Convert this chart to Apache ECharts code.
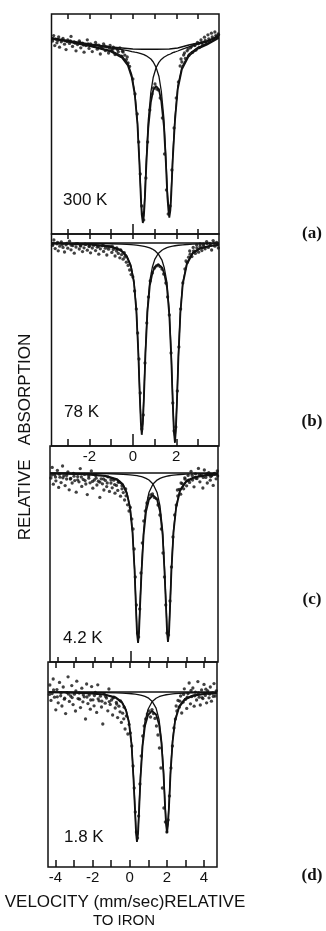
<!DOCTYPE html>
<html>
<head>
<meta charset="utf-8">
<title>Mössbauer spectra</title>
<script src="https://cdn.jsdelivr.net/npm/echarts@6/dist/echarts.min.js"></script>
<style>
  html, body { margin: 0; padding: 0; background: #fff; }
  #chart { width: 326px; height: 931px; }
</style>
</head>
<body>
<div id="chart"></div>
<script>
// velocities in mm/sec, absorption in % (baseline 0, grows downward)

// (a) 300 K
const velA = [-3.73, -3.0, -2.0, -1.0, -0.5, -0.23, -0.05, 0.09, 0.21, 0.30, 0.37, 0.41, 0.46, 0.51, 0.55, 0.62, 0.71, 0.83, 0.94, 1.07, 1.20, 1.31, 1.43, 1.52, 1.59, 1.64, 1.68, 1.73, 1.77, 1.84, 1.94, 2.07, 2.26, 2.58, 3.0, 3.41, 3.96];
const fitA = [0.3, 1.75, 4.0, 6.8, 9.8, 13.75, 19.7, 28.6, 42.9, 62.4, 80.6, 88.5, 92.5, 88.8, 81.3, 63.7, 45.1, 32.0, 26.0, 24.0, 25.7, 31.6, 44.1, 62.2, 79.3, 86.3, 89.8, 86.0, 78.3, 60.5, 41.5, 25.5, 15.7, 8.9, 5.3, 3.3, 0.0];
const compA1 = [0.2, 1.6, 3.7, 6.3, 9.0, 12.7, 18.4, 27.1, 41.2, 60.4, 78.4, 86.2, 90.0, 86.2, 78.4, 60.4, 41.2, 27.1, 19.6, 14.9, 12.2, 10.7, 9.6, 9.0, 8.6, 8.3, 8.2, 8.0, 7.6, 7.3, 7.0, 6.5, 5.7, 4.4, 3.1, 2.0, -0.7];
const compA2 = [0.1, 1.4, 3.3, 5.0, 5.8, 6.3, 6.8, 7.1, 7.3, 7.6, 7.8, 7.9, 8.1, 8.3, 8.5, 8.9, 9.5, 10.5, 12.0, 14.7, 19.1, 26.5, 40.1, 58.8, 76.3, 83.6, 87.3, 83.6, 76.1, 58.5, 39.7, 24.0, 14.5, 8.0, 4.7, 2.8, -0.3];
const baseVelA = [-3.73, -3.0, -2.0, -1.0, 0.0, 0.46, 1.07, 1.68, 2.07, 2.58, 3.0, 3.41, 3.96];
const baseA = [0, 1.25, 3.0, 4.5, 5.5, 5.6, 5.6, 5.5, 5.0, 3.5, 2.5, 1.5, -1.0];
const ptsA = [[-3.7, 1.5], [-3.65, -1.2], [-3.6, 3.8], [-3.55, 0.6], [-3.5, 2.4], [-3.42, -0.5], [-3.38, 4.6], [-3.3, 1.9], [-3.22, 0.2], [-3.15, 3.1], [-3.08, 5.8], [-3.0, 1.0], [-2.92, 2.7], [-2.85, -0.8], [-2.78, 4.2], [-2.7, 2.0], [-2.62, 6.4], [-2.55, 3.3], [-2.47, 1.4], [-2.4, 4.9], [-2.32, 2.6], [-2.25, 7.1], [-2.17, 3.8], [-2.1, 0.9], [-2.02, 5.2], [-1.95, 3.0], [-1.87, 6.8], [-1.8, 4.1], [-1.72, 2.2], [-1.64, 5.6], [-1.57, 3.6], [-1.5, 8.0], [-1.42, 4.8], [-1.35, 2.9], [-1.27, 6.3], [-1.2, 4.4], [-1.12, 7.5], [-1.05, 3.7], [-0.97, 5.9], [-0.9, 4.6], [-0.82, 8.3], [-0.75, 5.3], [-0.67, 6.9], [-0.6, 4.9], [-0.52, 9.1], [-0.45, 7.0], [-0.37, 8.6], [-0.3, 10.8], [-0.22, 12.5], [-0.15, 14.2],
  [-3.68, 0.4], [-3.46, 1.2], [-3.26, 0.9], [-3.04, 1.8], [-2.88, 1.4], [-2.66, 2.6], [-2.44, 2.2], [-2.28, 3.5], [-2.06, 2.9], [-1.9, 3.8], [-1.68, 3.4], [-1.46, 4.5], [-1.3, 4.0], [-1.08, 5.0], [-0.92, 5.6], [-0.7, 5.9], [-0.48, 6.6], [-0.26, 9.5],
  [0.0, 20.5], [0.1, 28], [0.2, 38], [0.27, 52], [0.34, 68], [0.41, 84], [0.5, 91], [0.6, 70], [0.68, 52], [0.78, 36], [0.88, 28], [0.95, 25], [1.02, 23], [1.1, 25.5], [1.18, 26], [1.26, 30], [1.36, 40], [1.46, 58], [1.55, 76], [1.63, 88], [1.72, 84], [1.8, 66], [1.9, 45], [2.0, 30], [2.1, 22],
  [2.18, 14], [2.26, 12], [2.34, 8.5], [2.42, 10.2], [2.5, 6.4], [2.58, 8.8], [2.66, 4.9], [2.74, 7.2], [2.82, 3.5], [2.9, 6.1], [2.98, 2.2], [3.06, 4.8], [3.14, 1.0], [3.22, 3.6], [3.3, -0.4], [3.38, 2.5], [3.46, -1.6], [3.54, 1.3], [3.62, -2.4], [3.7, 0.4], [3.78, -3.0], [3.86, -0.8], [3.93, -2.0],
  [2.22, 10.5], [2.38, 7.5], [2.55, 5.5], [2.7, 4.3], [2.86, 3.8], [3.02, 2.9], [3.18, 2.4], [3.34, 1.2], [3.5, 0.4], [3.66, -0.5], [3.82, -1.2], [3.95, -1.6]];

// (b) 78 K
const velB = [-3.73, -3.0, -1.98, -1.06, -0.55, -0.28, -0.09, 0.05, 0.16, 0.25, 0.32, 0.37, 0.41, 0.46, 0.51, 0.58, 0.67, 0.78, 0.90, 1.01, 1.17, 1.34, 1.45, 1.57, 1.68, 1.77, 1.84, 1.89, 1.94, 1.98, 2.03, 2.10, 2.19, 2.30, 2.49, 2.76, 3.09, 3.55, 3.96];
const fitB = [0.29, 0.41, 0.78, 1.83, 3.85, 6.95, 11.87, 19.8, 33.8, 54.7, 76.9, 90.3, 95.9, 90.4, 77.2, 55.3, 34.7, 21.4, 15.0, 12.0, 10.7, 12.2, 15.4, 22.1, 36.1, 57.5, 80.4, 94.2, 99.9, 94.0, 80.0, 56.9, 35.1, 20.6, 10.6, 5.2, 2.9, 1.6, 1.0];
const compB1 = [0.19, 0.27, 0.56, 1.46, 3.31, 6.27, 11.06, 18.9, 32.7, 53.5, 75.6, 88.9, 94.5, 88.9, 75.6, 53.5, 32.7, 18.9, 12.0, 8.17, 5.24, 3.64, 2.90, 2.36, 1.96, 1.71, 1.55, 1.46, 1.37, 1.29, 1.22, 1.12, 1.01, 0.89, 0.74, 0.58, 0.44, 0.32, 0.25];
const compB2 = [0.10, 0.14, 0.22, 0.37, 0.54, 0.68, 0.81, 0.93, 1.05, 1.17, 1.27, 1.35, 1.43, 1.52, 1.62, 1.78, 2.04, 2.46, 3.02, 3.79, 5.47, 8.52, 12.5, 19.7, 34.1, 55.8, 78.8, 92.7, 98.5, 92.7, 78.8, 55.8, 34.1, 19.7, 9.85, 4.63, 2.46, 1.27, 0.77];
const baseVelB = [-3.75, 3.97];
const baseB = [0, 0];
const ptsB = [[-3.7, 1.2], [-3.64, -1.5], [-3.58, 2.8], [-3.5, 0.4], [-3.44, 3.9], [-3.37, 1.6], [-3.3, -0.6], [-3.22, 2.2], [-3.15, 4.5], [-3.08, 0.9], [-3.0, 2.6], [-2.92, -0.9], [-2.85, 3.4], [-2.77, 1.3], [-2.7, 5.1], [-2.62, 2.0], [-2.55, 0.3], [-2.47, 3.0], [-2.4, 1.5], [-2.32, 4.3], [-2.25, 2.4], [-2.17, 0.7], [-2.1, 3.6], [-2.02, 1.8], [-1.95, 4.9], [-1.87, 2.5], [-1.8, 1.1], [-1.72, 3.8], [-1.64, 2.1], [-1.57, 5.6], [-1.5, 2.9], [-1.42, 1.4], [-1.35, 4.2], [-1.27, 2.6], [-1.2, 6.0], [-1.12, 3.1], [-1.05, 1.9], [-0.97, 4.7], [-0.9, 3.3], [-0.82, 6.5], [-0.75, 4.0], [-0.67, 5.2], [-0.6, 7.4], [-0.52, 5.8], [-0.45, 8.1], [-0.37, 7.0], [-0.3, 9.6], [-0.22, 11.2], [-0.15, 13.5], [-0.08, 15.8],
  [-3.68, 0.5], [-3.47, -0.3], [-3.26, 0.8], [-3.05, 0.2], [-2.84, 1.1], [-2.63, 0.4], [-2.42, 1.3], [-2.21, 0.6], [-2.0, 1.5], [-1.79, 0.9], [-1.58, 1.7], [-1.37, 1.0], [-1.16, 2.0], [-0.95, 1.6], [-0.74, 2.5], [-0.56, 3.4], [-0.4, 4.8],
  [0.0, 17], [0.08, 24], [0.16, 33], [0.22, 45], [0.28, 58], [0.34, 75], [0.41, 93], [0.48, 86], [0.56, 60], [0.64, 40], [0.72, 27], [0.8, 19], [0.9, 15], [1.0, 12.5], [1.08, 11.5], [1.17, 11], [1.25, 11.8], [1.34, 13], [1.42, 15.5], [1.52, 20], [1.6, 27], [1.68, 36], [1.76, 55], [1.84, 80], [1.9, 94], [1.98, 92], [2.05, 74], [2.12, 52], [2.2, 33], [2.3, 20], [2.4, 13],
  [2.5, 9.8], [2.57, 7.1], [2.64, 5.6], [2.72, 6.8], [2.8, 3.9], [2.88, 5.2], [2.95, 2.4], [3.03, 4.6], [3.1, 1.7], [3.18, 3.8], [3.25, 0.6], [3.33, 2.9], [3.4, -0.7], [3.48, 2.2], [3.55, 0.2], [3.63, 3.5], [3.7, -1.2], [3.78, 1.6], [3.86, -0.3], [3.94, 2.5],
  [2.45, 9.0], [2.62, 4.0], [2.78, 2.2], [2.94, 1.0], [3.1, 0.5], [3.26, 1.4], [3.42, 0.3], [3.58, 1.1], [3.74, 0.0], [3.9, 0.8]];

// (c) 4.2 K
const velC = [-4.40, -3.59, -2.50, -1.42, -0.77, -0.44, -0.23, -0.065, 0.07, 0.18, 0.26, 0.31, 0.37, 0.42, 0.47, 0.56, 0.67, 0.80, 0.96, 1.18, 1.40, 1.56, 1.70, 1.80, 1.89, 1.94, 1.99, 2.05, 2.10, 2.18, 2.29, 2.43, 2.64, 2.97, 3.40, 4.00, 4.70];
const fitC = [0.27, 0.37, 0.67, 1.54, 3.43, 6.19, 10.55, 17.6, 29.9, 48.5, 68.1, 80.0, 84.95, 80.2, 68.5, 49.2, 31.1, 19.4, 13.3, 11.05, 13.25, 19.3, 30.9, 48.9, 68.1, 79.7, 84.5, 79.5, 67.7, 48.2, 29.7, 17.5, 9.05, 4.5, 2.35, 1.26, 0.74];
const compC1 = [0.18, 0.25, 0.48, 1.21, 2.92, 5.54, 9.77, 16.7, 28.9, 47.3, 66.8, 78.6, 83.5, 78.6, 66.8, 47.3, 28.9, 16.7, 9.77, 5.54, 3.54, 2.67, 2.17, 1.86, 1.67, 1.56, 1.46, 1.37, 1.29, 1.18, 1.04, 0.92, 0.75, 0.58, 0.43, 0.30, 0.21];
const compC2 = [0.09, 0.12, 0.19, 0.33, 0.51, 0.65, 0.78, 0.91, 1.04, 1.17, 1.28, 1.36, 1.45, 1.55, 1.66, 1.85, 2.16, 2.66, 3.52, 5.51, 9.71, 16.6, 28.7, 47.0, 66.4, 78.1, 83.0, 78.1, 66.4, 47.0, 28.7, 16.6, 8.3, 3.9, 1.92, 0.96, 0.53];
const baseVelC = [-4.4, 4.7];
const baseC = [0, 0];
const ptsC = [[-4.35, 2.5], [-4.28, -2.8], [-4.22, 5.6], [-4.15, 0.9], [-4.08, 3.9], [-4.0, -1.3], [-3.93, 7.2], [-3.86, 2.1], [-3.8, 4.8], [-3.72, -3.5], [-3.65, 1.4], [-3.58, 6.3], [-3.5, 3.0], [-3.43, -0.6], [-3.36, 8.4], [-3.28, 2.7], [-3.2, 5.0], [-3.13, 0.2], [-3.06, 3.8], [-2.98, 9.6], [-2.9, 1.8], [-2.83, 4.4], [-2.76, -2.2], [-2.68, 6.7], [-2.6, 3.2], [-2.53, 0.7], [-2.46, 5.5], [-2.38, 10.8], [-2.3, 2.6], [-2.23, 4.9], [-2.16, -1.0], [-2.08, 7.6], [-2.0, 3.5], [-1.93, 1.2], [-1.86, 6.0], [-1.78, 4.1], [-1.7, 12.2], [-1.63, 2.9], [-1.56, 5.4], [-1.48, 8.5], [-1.4, 3.7], [-1.33, 6.8], [-1.26, 1.9], [-1.18, 9.2], [-1.1, 5.0], [-1.03, 7.4], [-0.95, 3.6], [-0.88, 10.1], [-0.8, 6.2], [-0.73, 8.7], [-0.66, 4.5], [-0.58, 11.6], [-0.5, 7.9], [-0.43, 9.8], [-0.36, 13.5], [-0.28, 11.4], [-0.2, 15.9], [-0.12, 19.0],
  [-4.3, 1.0], [-4.1, 2.0], [-3.9, 0.6], [-3.7, 2.4], [-3.5, 1.2], [-3.3, 3.0], [-3.1, 1.6], [-2.9, 3.4], [-2.7, 2.0], [-2.5, 3.8], [-2.3, 1.5], [-2.1, 4.2], [-1.9, 2.6], [-1.7, 4.6], [-1.5, 3.0], [-1.3, 5.0], [-1.1, 3.4], [-0.9, 5.8], [-0.7, 4.6], [-0.5, 6.4], [-0.3, 8.0],
  [-0.05, 17.2], [0.03, 23], [0.1, 28], [0.16, 38], [0.22, 52], [0.28, 66], [0.34, 80], [0.4, 82], [0.46, 68], [0.53, 50], [0.6, 35], [0.68, 24], [0.76, 19], [0.85, 15], [0.95, 12.5], [1.05, 11], [1.15, 10.4], [1.25, 12.2], [1.35, 12.8], [1.45, 16], [1.55, 21], [1.63, 28], [1.72, 40], [1.8, 52], [1.87, 66], [1.94, 80], [2.02, 81], [2.1, 64], [2.18, 47], [2.26, 32], [2.35, 21], [2.44, 16],
  [2.52, 11.5], [2.6, 8.2], [2.68, 10.6], [2.76, 5.3], [2.84, 7.9], [2.92, 3.1], [3.0, 6.4], [3.08, 1.2], [3.16, 4.7], [3.24, -0.8], [3.32, 3.5], [3.4, 6.9], [3.48, 0.4], [3.56, 2.8], [3.64, -2.3], [3.72, 4.4], [3.8, 1.0], [3.88, 7.5], [3.96, -1.5], [4.04, 2.2], [4.12, 5.0], [4.2, -0.2], [4.28, 3.6], [4.36, 1.4], [4.44, 6.2], [4.52, 0.6], [4.6, 2.9], [4.66, -1.0],
  [2.5, 8.5], [2.7, 5.0], [2.9, 2.4], [3.1, 3.6], [3.3, 1.2], [3.5, 2.6], [3.7, 0.9], [3.9, 2.2], [4.1, 0.5], [4.3, 1.8], [4.5, 0.2], [4.68, 1.5]];

// (d) 1.8 K
const velD = [-4.35, -3.54, -2.46, -1.38, -0.74, -0.41, -0.20, -0.04, 0.10, 0.20, 0.29, 0.34, 0.39, 0.45, 0.50, 0.58, 0.69, 0.82, 0.99, 1.20, 1.42, 1.58, 1.71, 1.82, 1.90, 1.96, 2.01, 2.06, 2.12, 2.20, 2.31, 2.44, 2.66, 2.98, 3.41, 4.0, 4.70];
const fitD = [0.23, 0.32, 0.58, 1.35, 3.0, 5.44, 9.28, 15.5, 26.4, 42.7, 60.1, 70.5, 74.96, 70.7, 60.4, 43.2, 27.3, 16.96, 11.56, 9.49, 11.23, 16.2, 25.8, 40.8, 56.9, 66.5, 70.5, 66.3, 56.5, 40.2, 24.8, 14.65, 7.58, 3.76, 1.98, 1.07, 0.62];
const compD1 = [0.15, 0.22, 0.42, 1.07, 2.58, 4.90, 8.63, 14.75, 25.5, 41.7, 59.0, 69.4, 73.75, 69.4, 59.0, 41.7, 25.5, 14.75, 8.63, 4.90, 3.13, 2.36, 1.92, 1.64, 1.48, 1.38, 1.29, 1.21, 1.14, 1.04, 0.92, 0.81, 0.66, 0.51, 0.38, 0.27, 0.18];
const compD2 = [0.08, 0.10, 0.16, 0.28, 0.42, 0.54, 0.65, 0.76, 0.87, 0.98, 1.07, 1.13, 1.21, 1.29, 1.38, 1.54, 1.80, 2.21, 2.93, 4.59, 8.10, 13.84, 23.9, 39.2, 55.4, 65.1, 69.2, 65.1, 55.4, 39.2, 23.9, 13.84, 6.92, 3.25, 1.60, 0.80, 0.44];
const baseVelD = [-4.4, 4.7];
const baseD = [0, 0];
const ptsD = [[-4.3, -3.5], [-4.24, 4.2], [-4.18, 0.8], [-4.12, -6.5], [-4.05, 2.6], [-3.98, 8.9], [-3.92, -1.2], [-3.85, 5.4], [-3.78, -4.8], [-3.72, 1.9], [-3.65, 7.0], [-3.58, -2.5], [-3.52, 3.6], [-3.45, 10.8], [-3.38, 0.3], [-3.32, -7.6], [-3.25, 4.7], [-3.18, 2.0], [-3.12, -3.2], [-3.05, 6.3], [-2.98, 1.1], [-2.92, 9.5], [-2.85, -5.4], [-2.78, 3.3], [-2.72, 0.5], [-2.65, 7.8], [-2.58, -1.9], [-2.52, 4.9], [-2.45, 2.4], [-2.38, 13.5], [-2.32, -4.0], [-2.25, 5.8], [-2.18, 1.5], [-2.12, 8.6], [-2.05, -2.7], [-1.98, 3.9], [-1.92, 6.9], [-1.85, 0.2], [-1.78, 10.2], [-1.72, -3.6], [-1.65, 4.4], [-1.58, 2.1], [-1.52, 7.5], [-1.45, 16.0], [-1.38, 0.9], [-1.32, 5.6], [-1.25, 3.0], [-1.18, 9.4], [-1.12, -1.5], [-1.05, 6.2], [-0.98, 4.0], [-0.92, 11.5], [-0.85, 2.6], [-0.78, 8.0], [-0.72, 5.2], [-0.65, 12.8], [-0.58, 7.1], [-0.52, 9.9], [-0.45, 15.2], [-0.38, 10.6], [-0.32, 13.4], [-0.25, 18.5], [-0.18, 12.0], [-0.1, 21.0],
  [-4.32, 1.2], [-4.1, -1.0], [-3.9, 2.4], [-3.7, 0.5], [-3.5, 3.1], [-3.3, 1.0], [-3.1, 2.8], [-2.9, -0.5], [-2.7, 3.6], [-2.5, 1.4], [-2.3, 2.5], [-2.1, 4.0], [-1.9, 1.8], [-1.7, 3.4], [-1.5, 4.6], [-1.3, 2.2], [-1.1, 4.8], [-0.9, 3.0], [-0.7, 6.0], [-0.5, 4.4], [-0.3, 7.6],
  [-0.03, 16.2], [0.04, 20.5], [0.11, 27], [0.18, 37], [0.24, 48], [0.3, 60], [0.36, 70], [0.42, 73], [0.48, 62], [0.55, 46], [0.62, 32], [0.7, 22], [0.78, 17], [0.86, 13.5], [0.95, 11], [1.04, 9.5], [1.12, 12.5], [1.2, 8.8], [1.28, 10.8], [1.36, 13.2], [1.44, 17], [1.52, 21.5], [1.6, 28], [1.68, 38], [1.76, 48], [1.84, 58], [1.92, 65], [2.0, 70], [2.07, 64], [2.14, 52], [2.22, 38], [2.3, 27], [2.38, 18], [2.46, 13.5],
  [2.54, 9.5], [2.6, 4.2], [2.67, 7.6], [2.74, 2.0], [2.8, 10.5], [2.87, 5.1], [2.94, -1.6], [3.0, 3.7], [3.07, 8.2], [3.14, 0.8], [3.2, -4.5], [3.27, 5.9], [3.34, 2.3], [3.4, -2.0], [3.47, 7.1], [3.54, 0.1], [3.6, 4.0], [3.67, -5.2], [3.74, 2.6], [3.8, 6.5], [3.87, -1.0], [3.94, 3.3], [4.0, -3.8], [4.07, 1.7], [4.14, 5.4], [4.2, -0.6], [4.27, 2.9], [4.34, -2.5], [4.4, 4.6], [4.47, 0.5], [4.54, -4.2], [4.6, 2.0],
  [2.5, 7.0], [2.7, 4.6], [2.9, 1.2], [3.1, 2.6], [3.3, -0.8], [3.5, 1.9], [3.7, 0.4], [3.9, 2.8], [4.1, -1.4], [4.3, 1.0], [4.5, 2.2], [4.66, -0.6]];

// axis ticks and labels
const ticksAB = [-3, -2, -1, 0, 1, 2, 3];
const labelsB = [-2, 0, 2];
const ticksCD = [-4, -3, -2, -1, 0, 1, 2, 3, 4];
const labelsD = [-4, -2, 0, 2, 4];
const tempLabels = ['300 K', '78 K', '4.2 K', '1.8 K'];
const panelTags = ['(a)', '(b)', '(c)', '(d)'];

const INK = '#111';
const SANS = '"Liberation Sans", Arial, sans-serif';

const chart = echarts.init(document.getElementById('chart'));

const panels = [
  { vel: velA, fit: fitA, c1: compA1, c2: compA2, baseVel: baseVelA, base: baseA, pts: ptsA,
    grid: { left: 51.5, top: 14, width: 167.5, height: 220 }, x: [-3.75, 3.97], y: [-12, 98] },
  { vel: velB, fit: fitB, c1: compB1, c2: compB2, baseVel: baseVelB, base: baseB, pts: ptsB,
    grid: { left: 51.5, top: 234, width: 167.5, height: 212 }, x: [-3.75, 3.97], y: [-4.5, 101.5] },
  { vel: velC, fit: fitC, c1: compC1, c2: compC2, baseVel: baseVelC, base: baseC, pts: ptsC,
    grid: { left: 50, top: 446, width: 168, height: 216 }, x: [-4.4, 4.7], y: [-13.5, 94.5] },
  { vel: velD, fit: fitD, c1: compD1, c2: compD2, baseVel: baseVelD, base: baseD, pts: ptsD,
    grid: { left: 48, top: 662, width: 169, height: 205 }, x: [-4.4, 4.7], y: [-15, 87.5] },
];

function xAxis(gridIndex, range, position, ticks, len, labels) {
  return {
    type: 'value', gridIndex, position, min: range[0], max: range[1],
    axisLine: { show: false, onZero: false },
    splitLine: { show: false },
    axisTick: { show: true, inside: true, length: len, customValues: ticks,
      lineStyle: { color: INK, width: 1.5 } },
    axisLabel: labels
      ? { show: true, customValues: labels, margin: 3, color: INK, fontSize: 15, fontFamily: SANS,
          formatter: v => (v < 0 ? '-' + (-v) : String(v)) }
      : { show: false },
  };
}

// main axes first (one per panel), extra tick rows after
const xAxes = [
  xAxis(0, panels[0].x, 'bottom', ticksAB, 5),
  xAxis(1, panels[1].x, 'bottom', ticksAB, 7, labelsB),
  xAxis(2, panels[2].x, 'bottom', ticksCD, 5),
  xAxis(3, panels[3].x, 'bottom', ticksCD, 7, labelsD),
  xAxis(0, panels[0].x, 'bottom', [0], 10),
  xAxis(0, panels[0].x, 'top', ticksAB, 5),
  xAxis(1, panels[1].x, 'bottom', [0], 12),
  xAxis(1, panels[1].x, 'top', ticksAB, 5),
  xAxis(2, panels[2].x, 'bottom', [0], 11),
  xAxis(3, panels[3].x, 'top', ticksCD, 6),
];

const series = [];
panels.forEach((p, i) => {
  const line = (vel, vals, width) => ({
    type: 'line', xAxisIndex: i, yAxisIndex: i, silent: true,
    data: vel.map((v, k) => [v, vals[k]]),
    showSymbol: false, symbol: 'none',
    lineStyle: { color: INK, width },
  });
  series.push(line(p.baseVel, p.base, 1.4));
  series.push(line(p.vel, p.c1, 1.3));
  series.push(line(p.vel, p.c2, 1.3));
  series.push(line(p.vel, p.fit, 1.8));
  series.push({
    type: 'scatter', xAxisIndex: i, yAxisIndex: i, silent: true,
    data: p.pts, symbol: 'circle', symbolSize: 3.3,
    itemStyle: { color: INK },
  });
});

const tempPos = [[63, 200], [64, 412], [63, 638], [64, 837]];
const tagPos = [[312, 234], [312, 422], [312, 600], [312, 876]];
const texts = [];
tempLabels.forEach((t, i) => texts.push({
  type: 'text', x: tempPos[i][0], y: tempPos[i][1],
  style: { text: t, fill: INK, font: '17px ' + SANS, textAlign: 'left', textVerticalAlign: 'middle' },
}));
panelTags.forEach((t, i) => texts.push({
  type: 'text', x: tagPos[i][0], y: tagPos[i][1],
  style: { text: t, fill: INK, font: 'bold 17px "Liberation Serif", "Times New Roman", serif',
    textAlign: 'center', textVerticalAlign: 'middle' },
}));
texts.push({
  type: 'text', x: 25, y: 437, rotation: Math.PI / 2,
  style: { text: 'RELATIVE   ABSORPTION', fill: INK, font: '17px ' + SANS,
    textAlign: 'center', textVerticalAlign: 'middle' },
});
texts.push({
  type: 'text', x: 125, y: 902,
  style: { text: 'VELOCITY (mm/sec)RELATIVE', fill: INK, font: '17px ' + SANS,
    textAlign: 'center', textVerticalAlign: 'middle' },
});
texts.push({
  type: 'text', x: 124, y: 921,
  style: { text: 'TO IRON', fill: INK, font: '15px ' + SANS,
    textAlign: 'center', textVerticalAlign: 'middle' },
});

chart.setOption({
  animation: false,
  backgroundColor: '#fff',
  grid: panels.map(p => ({ ...p.grid, show: true, borderColor: INK, borderWidth: 1.5,
    backgroundColor: 'transparent' })),
  xAxis: xAxes,
  yAxis: panels.map((p, i) => ({
    type: 'value', gridIndex: i, inverse: true, min: p.y[0], max: p.y[1], show: false,
  })),
  series,
  graphic: texts,
});

window.addEventListener('resize', () => chart.resize());
</script>
</body>
</html>
